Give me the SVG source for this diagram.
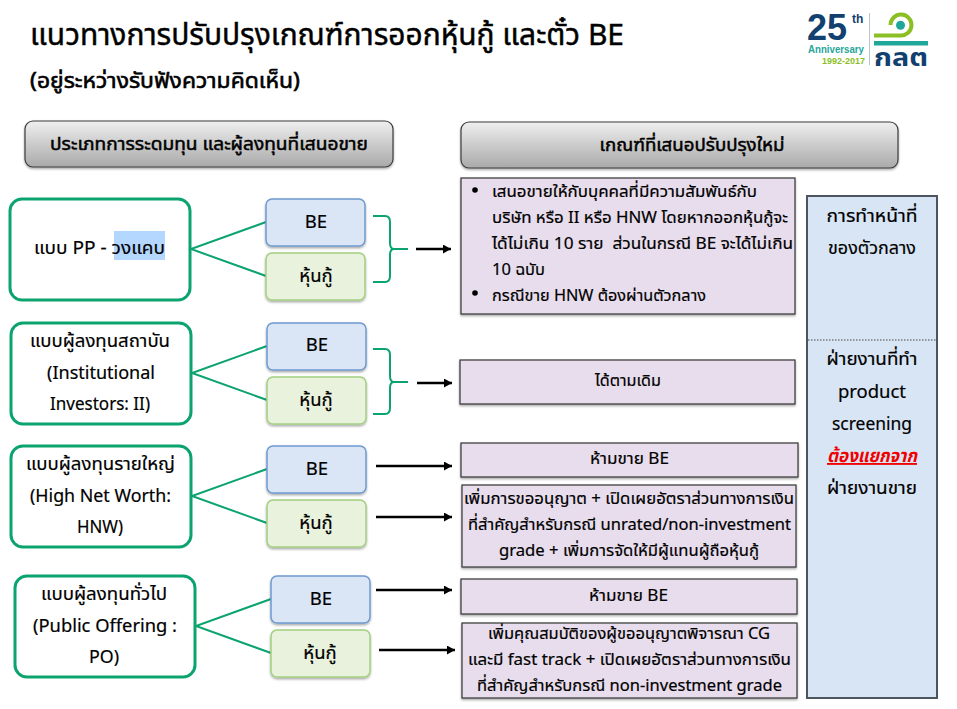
<svg xmlns="http://www.w3.org/2000/svg" width="957" height="709" viewBox="0 0 957 709">
<style>
text{font-family:"Noto Sans","Noto Sans Thai","Liberation Sans","DejaVu Sans",sans-serif;fill:#000;text-anchor:middle;stroke:#000;stroke-width:.2}
.l{text-anchor:start}
.t{font-size:18.5px}
.p{font-size:16.500px}
.b{font-weight:700;stroke:none}
.lg{font-family:"Liberation Sans",sans-serif;font-weight:700;stroke:none;text-anchor:start}
.hd{fill:url(#gr);stroke:#3c3c3c;stroke-width:1.2;filter:url(#sh)}
.nd{fill:#fff;stroke:#0ba36e;stroke-width:3}
.be{fill:#dae6f5;stroke:#6f9ad0;stroke-width:1.5;filter:url(#sh)}
.st{fill:#e9f2dd;stroke:#a3d080;stroke-width:1.5;filter:url(#sh)}
.pk{fill:#e8dded;stroke:#333;stroke-width:1.2;filter:url(#sh)}
.gl{fill:none;stroke:#0ba36e;stroke-width:2}
.ar{fill:none;stroke:#000;stroke-width:2.5;marker-end:url(#ah)}
</style>
<defs>
<linearGradient id="gr" x1="0" y1="0" x2="0" y2="1"><stop offset="0" stop-color="#efefef"/><stop offset="1" stop-color="#a9a9a9"/></linearGradient>
<filter id="sh" x="-5%" y="-10%" width="110%" height="125%"><feDropShadow dx="0" dy="1.5" stdDeviation="1" flood-color="#000" flood-opacity=".35"/></filter>
<marker id="ah" markerUnits="userSpaceOnUse" markerWidth="9" markerHeight="9" refX="8" refY="4.500" orient="auto"><path d="M0 0L8 4.500L0 9z" fill="#000"/></marker>
</defs>
<rect width="957" height="709" fill="#fff"/>
<g id="title">
<text class="l" x="30" y="45" font-size="29.500" style="stroke-width:.45" textLength="594" lengthAdjust="spacingAndGlyphs">แนวทางการปรับปรุงเกณฑ์การออกหุ้นกู้ และตั๋ว BE</text>
<text class="l" x="30" y="88" font-size="21.500" style="stroke-width:.6" textLength="270" lengthAdjust="spacingAndGlyphs">(อยู่ระหว่างรับฟังความคิดเห็น)</text>
</g>
<g id="logo">
<text class="lg" x="807" y="40" font-size="36" style="fill:#12406f">25</text>
<text class="lg" x="852" y="23" font-size="12" style="fill:#12406f">th</text>
<text class="lg" x="808" y="53" font-size="10.500" style="fill:#26a69a" textLength="56" lengthAdjust="spacingAndGlyphs">Anniversary</text>
<text class="lg" x="822" y="64" font-size="9.500" style="fill:#8cbf26" textLength="43" lengthAdjust="spacingAndGlyphs">1992-2017</text>
<path d="M869.500 13V65" stroke="#b8c4cc" stroke-width="1" fill="none"/>
<path d="M874 35.500H900A10.500 10.500 0 1 0 890.500 25" fill="none" stroke="#8cbf26" stroke-width="4"/>
<circle cx="900.500" cy="25.300" r="4.500" fill="#1fa89a"/>
<rect x="874" y="41" width="54" height="4.500" fill="#1fa89a"/>
<text class="b" x="901" y="66" font-size="25" style="fill:#12406f" textLength="54" lengthAdjust="spacingAndGlyphs">กลต</text>
</g>
<g id="connectors">
<path class="gl" d="M266 222L191 249L266 276"/>
<path class="gl" d="M267 346L192 373L267 400"/>
<path class="gl" d="M267 469L192 496L267 523"/>
<path class="gl" d="M271 599L196 626L271 653"/>
<path class="gl" d="M373 216H385Q390 216 390 222V243Q390 249 394 249H408M394 249Q390 249 390 255V276Q390 282 385 282H373"/>
<path class="gl" d="M373 349H385Q390 349 390 355V376Q390 382 394 382H408M394 382Q390 382 390 388V408Q390 414 385 414H373"/>
<path class="ar" d="M416 249H451"/>
<path class="ar" d="M417 383H452"/>
<path class="ar" d="M376 466H452"/>
<path class="ar" d="M376 517H452"/>
<path class="ar" d="M376 590H452"/>
<path class="ar" d="M379 650H455"/>
</g>
<g id="head-left"><rect class="hd" x="25" y="121" width="368" height="46" rx="8"/><text x="209" y="150" font-size="18" style="stroke-width:.5" textLength="318" lengthAdjust="spacingAndGlyphs">ประเภทการระดมทุน และผู้ลงทุนที่เสนอขาย</text></g>
<g id="head-right"><rect class="hd" x="461" y="122" width="437" height="46" rx="8"/><text x="692" y="151" font-size="18" style="stroke-width:.5" textLength="185" lengthAdjust="spacingAndGlyphs">เกณฑ์ที่เสนอปรับปรุงใหม่</text></g>
<g id="node-pp"><rect class="nd" x="10" y="199" width="180" height="101" rx="12"/><rect x="114" y="231" width="51" height="29" fill="#b3d7ff"/><text class="t" x="99.500" y="254" textLength="131" lengthAdjust="spacingAndGlyphs">แบบ PP - วงแคบ</text></g>
<g id="be-1"><rect class="be" x="266" y="199" width="99" height="47" rx="6"/><text class="t" x="316" y="228">BE</text></g>
<g id="st-1"><rect class="st" x="266" y="253" width="99" height="47" rx="6"/><text class="t" x="316" y="282">หุ้นกู้</text></g>
<g id="node-ii"><rect class="nd" x="11" y="323" width="180" height="101" rx="12"/><text class="t" x="100" y="347" textLength="140" lengthAdjust="spacingAndGlyphs">แบบผู้ลงทุนสถาบัน</text><text class="t" x="101" y="379" textLength="108" lengthAdjust="spacingAndGlyphs">(Institutional</text><text class="t" x="100" y="410" textLength="100" lengthAdjust="spacingAndGlyphs">Investors: II)</text></g>
<g id="be-2"><rect class="be" x="267" y="323" width="99" height="47" rx="6"/><text class="t" x="317" y="351">BE</text></g>
<g id="st-2"><rect class="st" x="267" y="377" width="99" height="47" rx="6"/><text class="t" x="316" y="406">หุ้นกู้</text></g>
<g id="node-hnw"><rect class="nd" x="11" y="446" width="180" height="101" rx="12"/><text class="t" x="100.500" y="470" textLength="149" lengthAdjust="spacingAndGlyphs">แบบผู้ลงทุนรายใหญ่</text><text class="t" x="100.500" y="502" textLength="141" lengthAdjust="spacingAndGlyphs">(High Net Worth:</text><text class="t" x="100" y="533" textLength="46" lengthAdjust="spacingAndGlyphs">HNW)</text></g>
<g id="be-3"><rect class="be" x="267" y="446" width="99" height="47" rx="6"/><text class="t" x="317" y="475">BE</text></g>
<g id="st-3"><rect class="st" x="267" y="500" width="99" height="47" rx="6"/><text class="t" x="316" y="529">หุ้นกู้</text></g>
<g id="node-po"><rect class="nd" x="15" y="576" width="180" height="101" rx="12"/><text class="t" x="104" y="600" textLength="126" lengthAdjust="spacingAndGlyphs">แบบผู้ลงทุนทั่วไป</text><text class="t" x="105" y="632" textLength="144" lengthAdjust="spacingAndGlyphs">(Public Offering :</text><text class="t" x="104" y="663" textLength="30" lengthAdjust="spacingAndGlyphs">PO)</text></g>
<g id="be-4"><rect class="be" x="271" y="576" width="99" height="47" rx="6"/><text class="t" x="321" y="605">BE</text></g>
<g id="st-4"><rect class="st" x="271" y="630" width="99" height="47" rx="6"/><text class="t" x="320" y="659">หุ้นกู้</text></g>
<g id="box-1"><rect class="pk" x="461" y="178" width="334" height="136"/>
<circle cx="475" cy="190" r="2.800" fill="#000"/><circle cx="475" cy="293" r="2.800" fill="#000"/>
<text class="l p" x="492" y="197" textLength="265" lengthAdjust="spacingAndGlyphs">เสนอขายให้กับบุคคลที่มีความสัมพันธ์กับ</text>
<text class="l p" x="492" y="223" textLength="296" lengthAdjust="spacingAndGlyphs">บริษัท หรือ II หรือ HNW โดยหากออกหุ้นกู้จะ</text>
<text class="l p" x="492" y="249" textLength="301" lengthAdjust="spacingAndGlyphs" xml:space="preserve">ได้ไม่เกิน 10 ราย  ส่วนในกรณี BE จะได้ไม่เกิน</text>
<text class="l p" x="492" y="275" textLength="53" lengthAdjust="spacingAndGlyphs">10 ฉบับ</text>
<text class="l p" x="492" y="301" textLength="214" lengthAdjust="spacingAndGlyphs">กรณีขาย HNW ต้องผ่านตัวกลาง</text></g>
<g id="box-2"><rect class="pk" x="460" y="360" width="335" height="44"/><text class="p" x="628" y="386" textLength="66" lengthAdjust="spacingAndGlyphs">ได้ตามเดิม</text></g>
<g id="box-3"><rect class="pk" x="461" y="443" width="337" height="34"/><text class="p" x="629.500" y="464" textLength="79" lengthAdjust="spacingAndGlyphs">ห้ามขาย BE</text></g>
<g id="box-4"><rect class="pk" x="462" y="485" width="334" height="82"/><text class="p" x="629" y="504" textLength="330" lengthAdjust="spacingAndGlyphs">เพิ่มการขออนุญาต + เปิดเผยอัตราส่วนทางการเงิน</text><text class="p" x="629.500" y="530" textLength="323" lengthAdjust="spacingAndGlyphs">ที่สำคัญสำหรับกรณี unrated/non-investment</text><text class="p" x="629" y="556" textLength="260" lengthAdjust="spacingAndGlyphs">grade + เพิ่มการจัดให้มีผู้แทนผู้ถือหุ้นกู้</text></g>
<g id="box-5"><rect class="pk" x="461" y="579" width="336" height="35"/><text class="p" x="628.500" y="601" textLength="79" lengthAdjust="spacingAndGlyphs">ห้ามขาย BE</text></g>
<g id="box-6"><rect class="pk" x="462" y="623" width="335" height="75"/><text class="p" x="629" y="639" textLength="282" lengthAdjust="spacingAndGlyphs">เพิ่มคุณสมบัติของผู้ขออนุญาตพิจารณา CG</text><text class="p" x="629.500" y="665" textLength="323" lengthAdjust="spacingAndGlyphs">และมี fast track + เปิดเผยอัตราส่วนทางการเงิน</text><text class="p" x="629.500" y="691" textLength="305" lengthAdjust="spacingAndGlyphs">ที่สำคัญสำหรับกรณี non-investment grade</text></g>
<g id="side"><rect x="807" y="196" width="130" height="502" fill="#d8e5f4" stroke="#4d5560" stroke-width="2"/>
<path d="M808 340H936" stroke="#444" stroke-width="1" stroke-dasharray="1.500 1.500" fill="none"/>
<text class="t" x="872" y="222" textLength="91" lengthAdjust="spacingAndGlyphs">การทำหน้าที่</text><text class="t" x="872" y="254" textLength="88" lengthAdjust="spacingAndGlyphs">ของตัวกลาง</text>
<text class="t" x="872" y="365" textLength="91" lengthAdjust="spacingAndGlyphs">ฝ่ายงานที่ทำ</text><text class="t" x="872" y="398" textLength="68" lengthAdjust="spacingAndGlyphs">product</text><text class="t" x="872" y="430" textLength="80" lengthAdjust="spacingAndGlyphs">screening</text>
<text class="t b" x="872" y="462" font-style="italic" text-decoration="underline" style="fill:#f00000" textLength="90" lengthAdjust="spacingAndGlyphs">ต้องแยกจาก</text>
<text class="t" x="872" y="494" textLength="90" lengthAdjust="spacingAndGlyphs">ฝ่ายงานขาย</text></g>
</svg>
